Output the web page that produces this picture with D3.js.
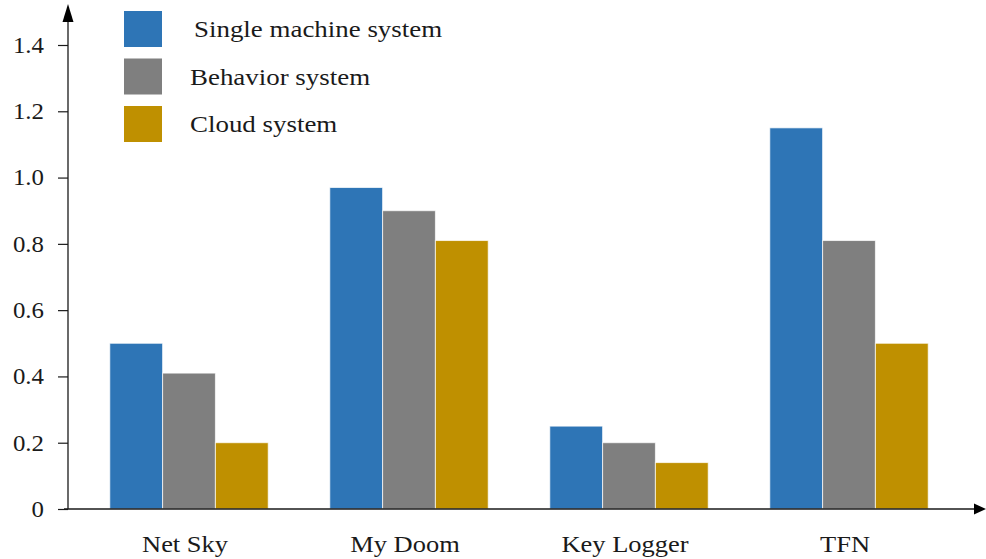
<!DOCTYPE html>
<html>
<head>
<meta charset="utf-8">
<script src="https://cdn.jsdelivr.net/npm/d3@7/dist/d3.min.js"></script>
<style>
  html, body { margin: 0; padding: 0; background: #fff; }
  svg { display: block; }
  text { font-family: "Liberation Serif", "Times New Roman", serif; fill: #1a1a1a; }
</style>
</head>
<body>
<svg id="chart" width="986" height="559"></svg>
<script>
// Detection time per sample and system
const categories = ["Net Sky", "My Doom", "Key Logger", "TFN"];
const seriesNames = ["Single machine system", "Behavior system", "Cloud system"];
const singleMachine = [0.50, 0.97, 0.25, 1.15];
const behavior = [0.41, 0.90, 0.20, 0.81];
const cloud = [0.20, 0.81, 0.14, 0.50];
const tickValues = [0, 0.2, 0.4, 0.6, 0.8, 1.0, 1.2, 1.4];
const tickLabels = ["0", "0.2", "0.4", "0.6", "0.8", "1.0", "1.2", "1.4"];
const colors = ["#2e75b6", "#7f7f7f", "#bf9000"];

const seriesValues = [singleMachine, behavior, cloud];
const rows = categories.map((c, i) => ({
  category: c,
  values: seriesNames.map((s, j) => ({ series: s, value: seriesValues[j][i] }))
}));

const svg = d3.select("#chart");
const axisColor = "#1a1a1a";
const originX = 68, originY = 509;

const x = d3.scaleBand().domain(categories).range([originX, 970])
  .paddingInner(0.28).paddingOuter(0.19);
const xs = d3.scaleBand().domain(seriesNames).range([0, x.bandwidth()]);
const y = d3.scaleLinear().domain([0, 1.4]).range([originY, 45]);
const color = d3.scaleOrdinal().domain(seriesNames).range(colors);

// widen serif glyphs horizontally
function stretch(sel, k) {
  sel.each(function () {
    const w = this.getComputedTextLength();
    d3.select(this).attr("textLength", w * k).attr("lengthAdjust", "spacingAndGlyphs");
  });
}

// bars
svg.append("g").selectAll("g")
  .data(rows).join("g")
  .attr("transform", d => `translate(${x(d.category)},0)`)
  .selectAll("rect")
  .data(d => d.values).join("rect")
  .attr("x", d => xs(d.series))
  .attr("y", d => y(d.value))
  .attr("width", xs.bandwidth())
  .attr("height", d => y(0) - y(d.value))
  .attr("fill", d => color(d.series))
  .attr("stroke", "#ffffff")
  .attr("stroke-opacity", 0.7)
  .attr("stroke-width", 1);

// y axis
const yAxis = svg.append("g")
  .attr("transform", `translate(${originX},0)`)
  .call(d3.axisLeft(y).tickValues(tickValues)
    .tickFormat((d, i) => tickLabels[i]).tickSize(10).tickPadding(14));
yAxis.select(".domain").remove();
yAxis.selectAll(".tick line").attr("stroke", axisColor).attr("stroke-width", 1.2);
yAxis.selectAll(".tick text")
  .style("font-size", "23px")
  .attr("fill", axisColor)
  .call(stretch, 1.08);

svg.append("line")
  .attr("x1", originX).attr("x2", originX)
  .attr("y1", originY).attr("y2", 18)
  .attr("stroke", axisColor).attr("stroke-width", 1.3);
svg.append("path")
  .attr("d", `M${originX},4 L${originX - 5.5},22 L${originX + 5.5},22 Z`)
  .attr("fill", "#000");

// x axis
const xAxis = svg.append("g")
  .attr("transform", `translate(0,${originY})`)
  .call(d3.axisBottom(x).tickSize(0));
xAxis.select(".domain").remove();
xAxis.selectAll(".tick text")
  .attr("y", 43).attr("dy", null)
  .attr("x", -4)
  .style("font-size", "23px")
  .attr("fill", axisColor)
  .call(stretch, 1.15);

svg.append("line")
  .attr("x1", 64).attr("x2", 976)
  .attr("y1", originY).attr("y2", originY)
  .attr("stroke", axisColor).attr("stroke-width", 1.3);
svg.append("path")
  .attr("d", `M986,${originY} L974,${originY - 5.5} L974,${originY + 5.5} Z`)
  .attr("fill", "#000");

// legend
const legend = svg.append("g").selectAll("g")
  .data(seriesNames).join("g")
  .attr("transform", (d, i) => `translate(124,${11 + i * 47.5})`);
legend.append("rect")
  .attr("width", 38).attr("height", 36)
  .attr("fill", d => color(d));
legend.append("text")
  .attr("x", (d, i) => i === 0 ? 70 : 66)
  .attr("y", 26)
  .style("font-size", "23px")
  .text(d => d)
  .call(stretch, 1.17);
</script>
</body>
</html>
